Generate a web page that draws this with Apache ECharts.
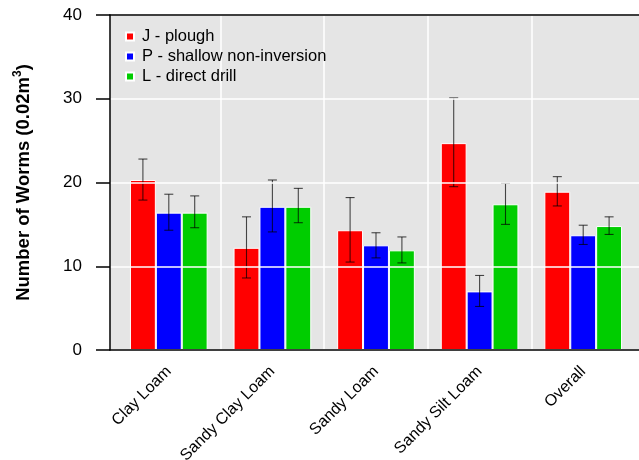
<!DOCTYPE html>
<html>
<head>
<meta charset="utf-8">
<script src="https://cdn.jsdelivr.net/npm/echarts@6/dist/echarts.min.js"></script>
<style>
  html, body { margin: 0; padding: 0; background: #fff; }
  #chart { width: 639px; height: 460px; }
</style>
</head>
<body>
<div id="chart"></div>
<script>
var soils = ['Clay Loam', 'Sandy Clay Loam', 'Sandy Loam', 'Sandy Silt Loam', 'Overall'];
var yTicks = [0, 10, 20, 30, 40];

// means
var plough = [20.3, 12.2, 14.3, 24.7, 18.9];
var shallow = [16.4, 17.1, 12.5, 7.0, 13.7];
var direct = [16.4, 17.1, 11.9, 17.4, 14.8];

// error bar ends
var ploughLow = [17.9, 8.6, 10.5, 19.5, 17.2];
var ploughHigh = [22.8, 15.9, 18.2, 30.1, 20.7];
var shallowLow = [14.3, 14.1, 11.0, 5.2, 12.6];
var shallowHigh = [18.6, 20.3, 14.0, 8.9, 14.9];
var directLow = [14.6, 15.2, 10.4, 15.0, 13.8];
var directHigh = [18.4, 19.3, 13.5, 19.9, 15.9];

var font = '"Liberation Sans", Arial, sans-serif';

function errData(lo, hi) {
	return lo.map(function (v, i) { return [i, v, hi[i]]; });
}

function errSeries(k, lo, hi) {
	return {
		type: 'custom',
		xAxisIndex: 0,
		yAxisIndex: 0,
		z: 5,
		silent: true,
		data: errData(lo, hi),
		renderItem: function (params, api) {
			var ci = api.value(0);
			var p1 = api.coord([ci, api.value(1)]);
			var p2 = api.coord([ci, api.value(2)]);
			var bw = api.size([1, 0])[0] * 0.75 / 3;
			var x = p1[0] + (k - 1) * bw;
			var cap = 4.5;
			var st = { stroke: 'rgba(0,0,0,0.7)', lineWidth: 1.1 };
			return {
				type: 'group',
				children: [
					{ type: 'line', shape: { x1: x, y1: p1[1], x2: x, y2: p2[1] }, style: st },
					{ type: 'line', shape: { x1: x - cap, y1: p1[1], x2: x + cap, y2: p1[1] }, style: st },
					{ type: 'line', shape: { x1: x - cap, y1: p2[1], x2: x + cap, y2: p2[1] }, style: st }
				]
			};
		}
	};
}

function barSeries(name, color, data) {
	return {
		name: name,
		type: 'bar',
		xAxisIndex: 0,
		yAxisIndex: 0,
		data: data,
		barGap: '0%',
		barCategoryGap: '25%',
		itemStyle: { color: color, borderColor: '#ffffff', borderWidth: 1 }
	};
}

var chart = echarts.init(document.getElementById('chart'));
var option = {
	animation: false,
	textStyle: { fontFamily: font },
	legend: {
		orient: 'vertical',
		left: 120,
		top: 23,
		icon: 'rect',
		itemWidth: 8,
		itemHeight: 8,
		itemGap: 3,
		textStyle: { fontSize: 16.5, color: '#000', fontFamily: font, padding: [0, 0, 0, 3] },
		data: ['J - plough', 'P - shallow non-inversion', 'L - direct drill']
	},
	grid: [
		{ left: 117, right: 4, top: 15, bottom: 110, outerBoundsMode: 'none', containLabel: false },
		{ left: 110, right: -4, top: 15, bottom: 110, outerBoundsMode: 'none', containLabel: false, show: true, backgroundColor: '#e5e5e5', borderWidth: 0 }
	],
	xAxis: [
		{
			type: 'category',
			gridIndex: 0,
			data: soils,
			axisLine: { show: false },
			axisTick: { show: false },
			splitLine: { show: true, showMinLine: false, showMaxLine: false, lineStyle: { color: '#ffffff', width: 1.5 } },
			axisLabel: { rotate: 45, margin: 19, fontSize: 16, color: '#000', fontFamily: font, interval: 0 }
		},
		{
			type: 'value',
			gridIndex: 1,
			position: 'bottom',
			min: 0, max: 1,
			z: 6,
			axisLine: { show: true, lineStyle: { color: '#000', width: 1.5 } },
			axisTick: { show: false },
			axisLabel: { show: false },
			splitLine: { show: false }
		},
		{
			type: 'value',
			gridIndex: 1,
			position: 'top',
			min: 0, max: 1,
			z: 6,
			axisLine: { show: true, lineStyle: { color: '#000', width: 1.5 } },
			axisTick: { show: false },
			axisLabel: { show: false },
			splitLine: { show: false }
		}
	],
	yAxis: [
		{
			type: 'value',
			gridIndex: 0,
			min: yTicks[0],
			max: yTicks[yTicks.length - 1],
			interval: 10,
			show: false
		},
		{
			type: 'value',
			gridIndex: 1,
			min: yTicks[0],
			max: yTicks[yTicks.length - 1],
			interval: 10,
			z: 6,
			name: '{b|Number of Worms (0.02m}{s|3}{b|)}',
			nameLocation: 'middle',
			nameGap: 74,
			nameTextStyle: {
				rich: {
					b: { fontSize: 18.5, fontWeight: 'bold', color: '#000', fontFamily: font },
					s: { fontSize: 12, fontWeight: 'bold', color: '#000', fontFamily: font, padding: [0, 0, 12, 0] }
				}
			},
			axisLine: { show: true, lineStyle: { color: '#000', width: 1.5 } },
			axisTick: { show: true, length: 14, lineStyle: { color: '#000', width: 1.5 } },
			axisLabel: { margin: 28, fontSize: 17, color: '#000', fontFamily: font },
			splitLine: { show: true, lineStyle: { color: '#ffffff', width: 1.5 } }
		}
	],
	series: [
		barSeries('J - plough', '#ff0000', plough),
		barSeries('P - shallow non-inversion', '#0000ff', shallow),
		barSeries('L - direct drill', '#00cd00', direct),
		errSeries(0, ploughLow, ploughHigh),
		errSeries(1, shallowLow, shallowHigh),
		errSeries(2, directLow, directHigh)
	]
};
chart.setOption(option);
window.addEventListener('resize', function () {
	chart.resize();
});
</script>
</body>
</html>
